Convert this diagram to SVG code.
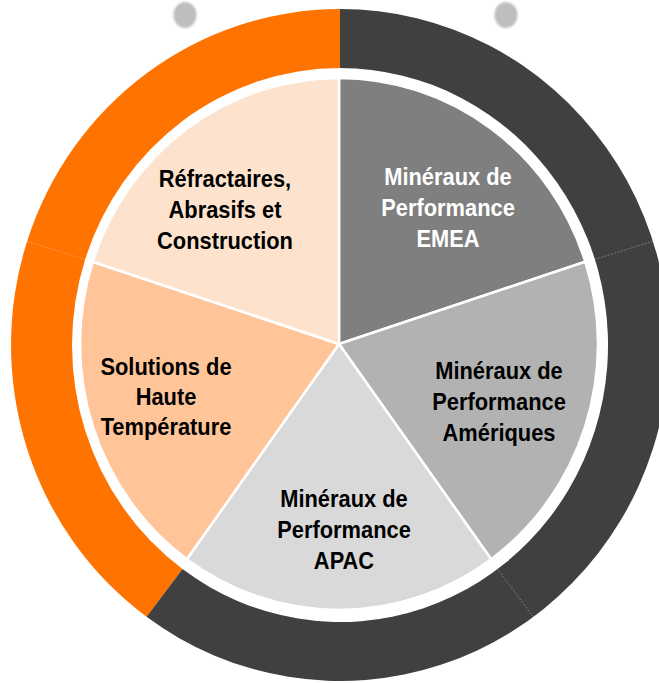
<svg xmlns="http://www.w3.org/2000/svg" width="659" height="683" viewBox="0 0 659 683">
  <style>
    .lbl { font-family: "Liberation Sans", Arial, sans-serif; font-weight: bold; font-size: 23.5px; text-anchor: middle; fill: #000000; }
    .lbl.w { fill: #FFFFFF; }
    .slice { stroke: #FFFFFF; stroke-width: 2.5; stroke-linejoin: round; }
    .div { stroke: #FFFFFF; stroke-opacity: 0.3; stroke-width: 1; stroke-dasharray: 2 1.5; }
  </style>
  <defs>
    <filter id="soft" x="-50%" y="-50%" width="200%" height="200%">
      <feGaussianBlur stdDeviation="0.8"/>
    </filter>
  </defs>
  <rect width="659" height="683" fill="#FFFFFF"/>

  <g id="dots" filter="url(#soft)">
    <ellipse cx="185" cy="15" rx="11.5" ry="13" fill="#BEBEBE"/>
    <ellipse cx="506" cy="15" rx="11.5" ry="13" fill="#BEBEBE"/>
  </g>

  <g id="ring">
    <path id="ring-orange" d="M 146.6 616.8 A 329 336 0 0 1 340 9 L 340 68 A 268 277 0 0 0 182.5 569.1 Z" fill="#FF7300"/>
    <path id="ring-dark" d="M 340 9 A 329 336 0 1 1 146.6 616.8 L 182.5 569.1 A 268 277 0 1 0 340 68 Z" fill="#404040"/>
    <line class="div" x1="652.9" y1="241.2" x2="594.9" y2="259.4"/>
    <line class="div" x1="533.4" y1="616.8" x2="497.5" y2="569.1"/>
    <line class="div" x1="27.1" y1="241.2" x2="85.1" y2="259.4"/>
  </g>

  <g id="node-emea">
    <path class="slice" d="M 339 344 L 339 78 A 259 266 0 0 1 585.3 261.8 Z" fill="#7F7F7F"/>
    <text class="lbl w" transform="translate(448 185) scale(0.93 1)">Minéraux de</text>
    <text class="lbl w" transform="translate(448 216) scale(0.93 1)">Performance</text>
    <text class="lbl w" transform="translate(448 247) scale(0.93 1)">EMEA</text>
  </g>

  <g id="node-ameriques">
    <path class="slice" d="M 339 344 L 585.3 261.8 A 259 266 0 0 1 491.2 559.2 Z" fill="#B2B2B2"/>
    <text class="lbl" transform="translate(499 379) scale(0.93 1)">Minéraux de</text>
    <text class="lbl" transform="translate(499 410) scale(0.93 1)">Performance</text>
    <text class="lbl" transform="translate(499 441) scale(0.93 1)">Amériques</text>
  </g>

  <g id="node-apac">
    <path class="slice" d="M 339 344 L 491.2 559.2 A 259 266 0 0 1 186.8 559.2 Z" fill="#D9D9D9"/>
    <text class="lbl" transform="translate(344 507) scale(0.93 1)">Minéraux de</text>
    <text class="lbl" transform="translate(344 538) scale(0.93 1)">Performance</text>
    <text class="lbl" transform="translate(344 569) scale(0.93 1)">APAC</text>
  </g>

  <g id="node-solutions">
    <path class="slice" d="M 339 344 L 186.8 559.2 A 259 266 0 0 1 92.7 261.8 Z" fill="#FFC599"/>
    <text class="lbl" transform="translate(166 375) scale(0.93 1)">Solutions de</text>
    <text class="lbl" transform="translate(166 405) scale(0.93 1)">Haute</text>
    <text class="lbl" transform="translate(166 435) scale(0.93 1)">Température</text>
  </g>

  <g id="node-refractaires">
    <path class="slice" d="M 339 344 L 92.7 261.8 A 259 266 0 0 1 339 78 Z" fill="#FDE3CD"/>
    <text class="lbl" transform="translate(225 187) scale(0.93 1)">Réfractaires,</text>
    <text class="lbl" transform="translate(225 218) scale(0.93 1)">Abrasifs et</text>
    <text class="lbl" transform="translate(225 249) scale(0.93 1)">Construction</text>
  </g>
</svg>
